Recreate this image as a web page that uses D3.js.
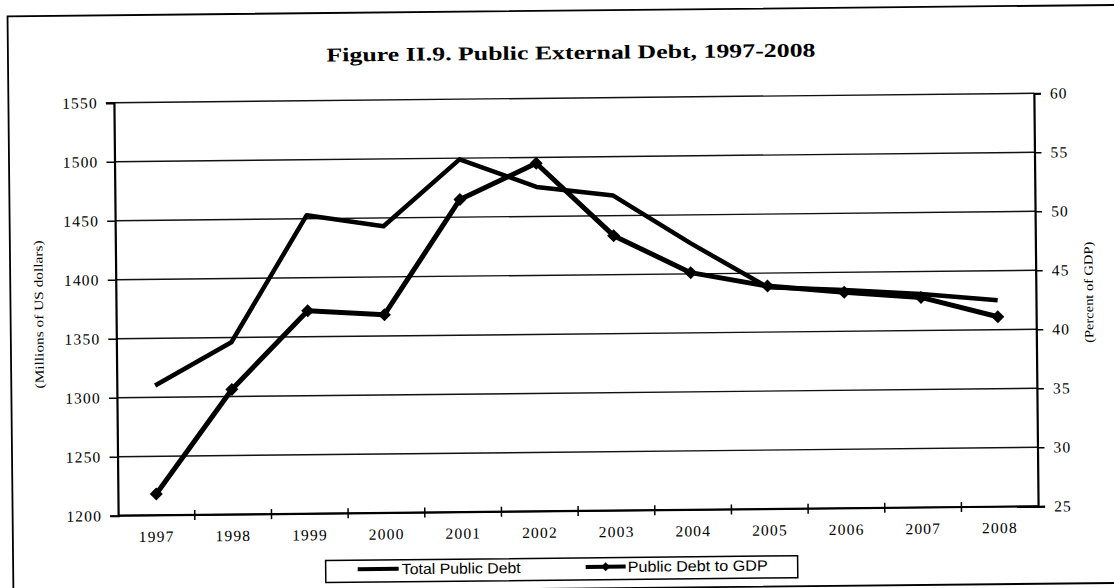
<!DOCTYPE html>
<html>
<head>
<meta charset="utf-8">
<script src="https://cdn.jsdelivr.net/npm/d3@7"></script>
<style>
  html, body { margin: 0; padding: 0; background: #fff; }
  svg { display: block; }
</style>
</head>
<body>
<svg id="chart" width="1114" height="588"></svg>
<script>
// ---- data ----
const years = ["1997","1998","1999","2000","2001","2002","2003","2004","2005","2006","2007","2008"];
const totalPublicDebt = [1310, 1346, 1453, 1443, 1499, 1475, 1467, 1426, 1388, 1385, 1381, 1375];
const debtToGDP = [26.8, 35.6, 42.2, 41.8, 51.5, 54.5, 48.3, 45.1, 43.9, 43.3, 42.8, 41.1];
const leftTicks = [1200, 1250, 1300, 1350, 1400, 1450, 1500, 1550];
const rightTicks = [25, 30, 35, 40, 45, 50, 55, 60];
const titleText = "Figure II.9. Public External Debt, 1997-2008";
const leftAxisTitle = "(Millions of US dollars)";
const rightAxisTitle = "(Percent of GDP)";
const seriesNames = ["Total Public Debt", "Public Debt to GDP"];

// ---- layout ----
const W = 1114, H = 588;
const L = 116, R = 1036, T = 98, B = 511;
const serif = "'Liberation Serif', 'Times New Roman', serif";
const sans = "'Liberation Sans', Arial, sans-serif";

const svg = d3.select("#chart");
svg.append("rect").attr("width", W).attr("height", H).attr("fill", "#fff");
const g = svg.append("g").attr("transform", "rotate(-0.585 576 304.5)");

// outer frame
g.append("rect").attr("x", 10.5).attr("y", 10.5).attr("width", 1120).attr("height", 578)
  .attr("fill", "none").attr("stroke", "#000").attr("stroke-width", 1.8);

const x = d3.scaleBand().domain(years).range([L, R]);
const cx = d => x(d) + x.bandwidth() / 2;
const yL = d3.scaleLinear().domain([1200, 1550]).range([B, T]);
const yR = d3.scaleLinear().domain([25, 60]).range([B, T]);

// gridlines
g.append("g").selectAll("line").data(leftTicks).join("line")
  .attr("x1", L).attr("x2", R)
  .attr("y1", d => yL(d)).attr("y2", d => yL(d))
  .attr("stroke", "#111").attr("stroke-width", 1.4);

// left axis
const axL = g.append("g").attr("transform", `translate(${L},0)`)
  .call(d3.axisLeft(yL).tickValues(leftTicks).tickSize(8).tickPadding(8).tickFormat(d3.format("d")));
// right axis
const axR = g.append("g").attr("transform", `translate(${R},0)`)
  .call(d3.axisRight(yR).tickValues(rightTicks).tickSize(7).tickPadding(9).tickFormat(d3.format("d")));
// bottom axis (labels at centres)
const axB = g.append("g").attr("transform", `translate(0,${B})`)
  .call(d3.axisBottom(x).tickSize(0).tickPadding(15.5));

[axL, axR, axB].forEach(a => {
  a.select(".domain").attr("stroke", "#000").attr("stroke-width", 2.2);
  a.selectAll(".tick line").attr("stroke", "#000").attr("stroke-width", 1.5);
  a.selectAll("text").attr("font-family", serif).attr("font-size", 15.5)
    .attr("letter-spacing", 1.2).attr("fill", "#000");
});
axB.select(".domain").attr("d", `M${L},0H${R}`);

// category boundary ticks on x axis
const bounds = years.slice(1).map(d => x(d));
g.append("g").selectAll("line").data(bounds).join("line")
  .attr("x1", d => d).attr("x2", d => d)
  .attr("y1", B - 5).attr("y2", B + 5)
  .attr("stroke", "#000").attr("stroke-width", 1.5);

// series lines
const lineTotal = d3.line().x((d, i) => cx(years[i])).y(d => yL(d));
const linePct = d3.line().x((d, i) => cx(years[i])).y(d => yR(d));

g.append("path").datum(totalPublicDebt).attr("d", lineTotal)
  .attr("fill", "none").attr("stroke", "#000").attr("stroke-width", 4.5)
  .attr("stroke-linejoin", "round");
g.append("path").datum(debtToGDP).attr("d", linePct)
  .attr("fill", "none").attr("stroke", "#000").attr("stroke-width", 5)
  .attr("stroke-linejoin", "round");

const diamond = "M0,-6.5L6.5,0L0,6.5L-6.5,0Z";
g.append("g").selectAll("path").data(debtToGDP).join("path")
  .attr("d", diamond)
  .attr("transform", (d, i) => `translate(${cx(years[i])},${yR(d)})`)
  .attr("fill", "#000");

// title
g.append("text").attr("x", 573.5).attr("y", 59).attr("text-anchor", "middle")
  .attr("font-family", serif).attr("font-weight", "bold").attr("font-size", 19.5)
  .attr("textLength", 489).attr("lengthAdjust", "spacingAndGlyphs")
  .text(titleText);

// axis titles
g.append("text").attr("transform", "translate(43,309) rotate(-90)")
  .attr("text-anchor", "middle").attr("font-family", serif).attr("font-size", 12.5)
  .attr("textLength", 148).attr("lengthAdjust", "spacingAndGlyphs")
  .text(leftAxisTitle);
g.append("text").attr("transform", "translate(1093,297.5) rotate(-90)")
  .attr("text-anchor", "middle").attr("font-family", serif).attr("font-size", 12.5)
  .attr("textLength", 101).attr("lengthAdjust", "spacingAndGlyphs")
  .text(rightAxisTitle);

// legend
const lg = g.append("g");
lg.append("rect").attr("x", 323).attr("y", 558).attr("width", 472).attr("height", 22)
  .attr("fill", "#fff").attr("stroke", "#000").attr("stroke-width", 1.5);
const legendItems = [
  { name: seriesNames[0], x1: 355, x2: 396, tx: 399, tw: 119, marker: false },
  { name: seriesNames[1], x1: 583, x2: 623, tx: 625, tw: 140, marker: true }
];
legendItems.forEach(it => {
  lg.append("line").attr("x1", it.x1).attr("x2", it.x2).attr("y1", 567).attr("y2", 567)
    .attr("stroke", "#000").attr("stroke-width", 4);
  if (it.marker) {
    lg.append("path").attr("d", "M0,-4.5L4.5,0L0,4.5L-4.5,0Z")
      .attr("transform", `translate(${(it.x1 + it.x2) / 2},567)`).attr("fill", "#000");
  }
  lg.append("text").attr("x", it.tx).attr("y", 572.5)
    .attr("font-family", sans).attr("font-size", 15)
    .attr("textLength", it.tw).attr("lengthAdjust", "spacingAndGlyphs")
    .text(it.name);
});
</script>
</body>
</html>
